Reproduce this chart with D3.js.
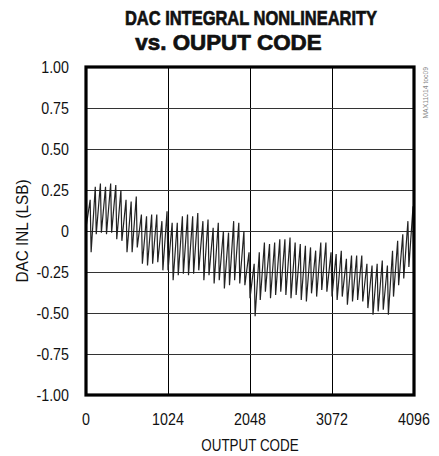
<!DOCTYPE html>
<html><head><meta charset="utf-8">
<script src="https://cdn.jsdelivr.net/npm/d3@7"></script>
<style>
html,body{margin:0;padding:0;background:#fff;}
svg{display:block;}
text{font-family:"Liberation Sans","Arial",sans-serif;fill:#111;}
</style></head>
<body>
<script>
// ---- data ----
const titleLines = ["DAC INTEGRAL NONLINEARITY", "vs. OUPUT CODE"];
const xTicks = [0, 1024, 2048, 3072, 4096];
const yTicks = [1.00, 0.75, 0.50, 0.25, 0, -0.25, -0.50, -0.75, -1.00];
const yTickLabels = ["1.00", "0.75", "0.50", "0.25", "0", "-0.25", "-0.50", "-0.75", "-1.00"];
const codesPerTooth = 64;
const peakOffset = 52;
// INL at the start (low) and peak (high) of each 64-code segment
const toothLow = [
  0.02, -0.13, -0.02, -0.01, -0.02, -0.01, -0.05, -0.06, -0.13, -0.13, -0.10, -0.20, -0.21, -0.20, -0.19, -0.24,
  -0.24, -0.30, -0.27, -0.26, -0.27, -0.26, -0.24, -0.30, -0.27, -0.32, -0.30, -0.35, -0.33, -0.30, -0.32, -0.33,
  -0.41, -0.52, -0.42, -0.37, -0.41, -0.39, -0.37, -0.39, -0.41, -0.39, -0.42, -0.43, -0.38, -0.40, -0.36, -0.37,
  -0.40, -0.42, -0.40, -0.45, -0.43, -0.42, -0.43, -0.47, -0.51, -0.49, -0.48, -0.51, -0.40, -0.33, -0.29, -0.22
];
const toothHigh = [
  0.19, 0.27, 0.29, 0.27, 0.29, 0.28, 0.25, 0.19, 0.18, 0.21, 0.10, 0.09, 0.10, 0.10, 0.06, 0.12,
  0.05, 0.05, 0.09, 0.10, 0.09, 0.11, 0.06, 0.07, 0.02, 0.05, 0.00, -0.01, 0.06, 0.05, 0.00, -0.13,
  -0.20, -0.13, -0.07, -0.08, -0.07, -0.05, -0.05, -0.04, -0.07, -0.08, -0.09, -0.10, -0.12, -0.07, -0.07, -0.13,
  -0.14, -0.12, -0.17, -0.15, -0.15, -0.15, -0.20, -0.21, -0.20, -0.18, -0.21, -0.12, -0.06, -0.02, 0.06, 0.15
];
const endCode = 4095;
const endValue = -0.45;

// ---- layout ----
const W = 439, H = 456;
const m = {left: 86, right: 414, top: 67, bottom: 395};

const svg = d3.select("body").append("svg").attr("width", W).attr("height", H);

const x = d3.scaleLinear().domain([0, 4096]).range([m.left, m.right]);
const y = d3.scaleLinear().domain([-1, 1]).range([m.bottom, m.top]);

function narrow(parent, tx, ty, str, size, anchor, sx, rot) {
  return parent.append("text")
    .attr("transform", `translate(${tx},${ty})${rot ? ` rotate(${rot})` : ""} scale(${sx},1)`)
    .attr("text-anchor", anchor).style("font-size", size + "px").text(str);
}

// title
narrow(svg, 251, 25, titleLines[0], 21, "middle", 0.785)
  .style("font-weight", "bold").style("stroke", "#111").style("stroke-width", 0.7);
narrow(svg, 228.5, 50, titleLines[1], 21.5, "middle", 1.04)
  .style("font-weight", "bold").style("stroke", "#111").style("stroke-width", 0.7);

// grid
const gx = d3.axisBottom(x).tickValues(xTicks.slice(1, -1)).tickSize(-(m.bottom - m.top)).tickFormat("");
svg.append("g").attr("transform", `translate(0,${m.bottom})`).call(gx)
  .call(g => g.select(".domain").remove())
  .call(g => g.selectAll("line").attr("stroke", "#000").attr("stroke-width", 1));
const gy = d3.axisLeft(y).tickValues(yTicks.slice(1, -1)).tickSize(-(m.right - m.left)).tickFormat("");
svg.append("g").attr("transform", `translate(${m.left},0)`).call(gy)
  .call(g => g.select(".domain").remove())
  .call(g => g.selectAll("line").attr("stroke", "#333").attr("stroke-width", 1.2));

// data line
const pts = [];
toothLow.forEach((lo, i) => {
  pts.push([i * codesPerTooth, lo]);
  pts.push([i * codesPerTooth + peakOffset, toothHigh[i]]);
});
pts.push([endCode, endValue]);
const line = d3.line().x(d => x(d[0])).y(d => y(d[1]));
svg.append("path").datum(pts).attr("d", line)
  .attr("fill", "none").attr("stroke", "#222").attr("stroke-width", 1.2);

// frame
svg.append("rect").attr("x", m.left).attr("y", m.top)
  .attr("width", m.right - m.left).attr("height", m.bottom - m.top)
  .attr("fill", "none").attr("stroke", "#000").attr("stroke-width", 3.2);

// y tick labels
const yl = svg.append("g");
yTicks.forEach((d, i) => narrow(yl, 69, y(d) + 6, yTickLabels[i], 17, "end", 0.84));

// x tick labels
const xl = svg.append("g");
xTicks.forEach(d => narrow(xl, x(d), 425, String(d), 17, "middle", 0.84));

// axis titles
narrow(svg, 250, 451, "OUTPUT CODE", 17, "middle", 0.79);
narrow(svg, 28, (m.top + m.bottom) / 2, "DAC INL (LSB)", 17, "middle", 0.9, -90);

// side code
svg.append("text").attr("transform", `translate(428,${m.top}) rotate(-90) scale(0.85,1)`)
  .attr("text-anchor", "end").style("font-size", "8px").style("fill", "#888")
  .text("MAX11014 toc09");
</script>
</body></html>
